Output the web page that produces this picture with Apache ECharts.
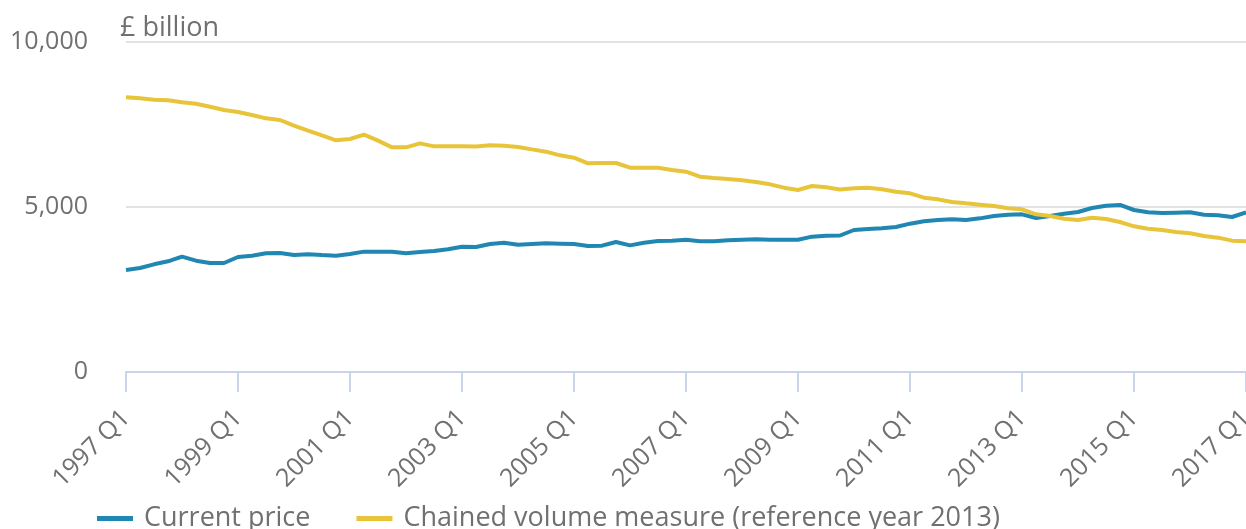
<!DOCTYPE html>
<html>
<head>
<meta charset="utf-8">
<script src="https://cdn.jsdelivr.net/npm/echarts@6/dist/echarts.min.js"></script>
<style>
  html, body { margin: 0; padding: 0; background: #fff; }
  #chart { width: 1246px; height: 529px; }
</style>
</head>
<body>
<div id="chart"></div>
<script>
var years = [];
for (var y = 1997; y <= 2017; y++) years.push(y);

var quarters = [];
years.forEach(function (yr) {
    ['Q1', 'Q2', 'Q3', 'Q4'].forEach(function (q) {
        if (yr < 2017 || q == 'Q1') quarters.push(yr + ' ' + q);
    });
});

var currentPrice = [
    3091, 3152, 3263, 3354,
    3495, 3374, 3303, 3303,
    3485, 3525, 3596, 3606,
    3545, 3566, 3545, 3525,
    3576, 3647, 3647, 3647,
    3596, 3636, 3667, 3717,
    3798, 3788, 3879, 3919,
    3859, 3879, 3899, 3889,
    3879, 3818, 3828, 3939,
    3838, 3919, 3970, 3980,
    4010, 3960, 3960, 3990,
    4010, 4020, 4010, 4010,
    4010, 4101, 4131, 4136,
    4303, 4333, 4354, 4394,
    4495, 4566, 4606, 4626,
    4606, 4656, 4727, 4768,
    4778, 4667, 4727, 4798,
    4848, 4970, 5040, 5061,
    4909, 4838, 4818, 4828,
    4838, 4768, 4747, 4697,
    4838
];

var chainedVolume = [
    8323, 8293, 8252, 8232,
    8172, 8131, 8040, 7939,
    7879, 7788, 7687, 7636,
    7465, 7313, 7172, 7020,
    7061, 7192, 7010, 6808,
    6808, 6929, 6838, 6838,
    6838, 6833, 6869, 6859,
    6818, 6747, 6677, 6566,
    6495, 6323, 6333, 6333,
    6192, 6192, 6192, 6121,
    6071, 5919, 5879, 5848,
    5808, 5758, 5687, 5586,
    5515, 5636, 5596, 5530,
    5566, 5586, 5535, 5465,
    5414, 5283, 5232, 5152,
    5111, 5071, 5030, 4960,
    4929, 4778, 4727, 4646,
    4606, 4677, 4636, 4545,
    4414, 4343, 4303, 4242,
    4202, 4121, 4071, 3980,
    3960
];

var seriesNames = ['Current price', 'Chained volume measure (reference year 2013)'];
var colors = ['#1f87b1', '#e8c43a'];
var textColor = '#707070';
var fontFamily = '"Open Sans", sans-serif';

var chart = echarts.init(document.getElementById('chart'));
var option = {
    animation: false,
    color: colors,
    textStyle: { fontFamily: fontFamily },
    title: {
        text: '£ billion',
        left: 115,
        top: 10,
        textStyle: {
            color: textColor,
            fontSize: 27,
            fontWeight: 'normal',
            fontFamily: fontFamily
        }
    },
    grid: {
        left: 126,
        right: 0,
        top: 42,
        bottom: 157,
        outerBoundsMode: 'none',
        containLabel: false
    },
    legend: {
        left: 92,
        top: 500,
        icon: 'rect',
        itemWidth: 36,
        itemHeight: 5,
        itemGap: 46,
        textStyle: {
            color: textColor,
            fontSize: 27,
            fontFamily: fontFamily,
            padding: [0, 0, 0, 6]
        },
        data: seriesNames
    },
    xAxis: {
        type: 'category',
        data: quarters,
        boundaryGap: false,
        axisLine: { lineStyle: { color: '#c9d4e8', width: 2 } },
        axisTick: {
            interval: 7,
            length: 20,
            lineStyle: { color: '#c9d4e8', width: 2 }
        },
        axisLabel: {
            interval: 7,
            rotate: 45,
            margin: 42,
            color: textColor,
            fontSize: 25,
            fontFamily: fontFamily
        }
    },
    yAxis: {
        type: 'value',
        min: 0,
        max: 10000,
        interval: 5000,
        axisLine: { show: false },
        axisTick: { show: false },
        splitLine: { lineStyle: { color: '#e3e3e3', width: 2 } },
        axisLabel: {
            margin: 38,
            padding: [6, 0, 0, 0],
            color: textColor,
            fontSize: 25,
            fontFamily: fontFamily,
            formatter: function (v) { return v.toLocaleString('en-GB'); }
        }
    },
    series: [
        {
            name: seriesNames[0],
            type: 'line',
            data: currentPrice,
            showSymbol: false,
            lineStyle: { width: 4 }
        },
        {
            name: seriesNames[1],
            type: 'line',
            data: chainedVolume,
            showSymbol: false,
            lineStyle: { width: 4 }
        }
    ]
};
chart.setOption(option);
window.addEventListener('resize', function () {
    chart.resize();
});
</script>
</body>
</html>
